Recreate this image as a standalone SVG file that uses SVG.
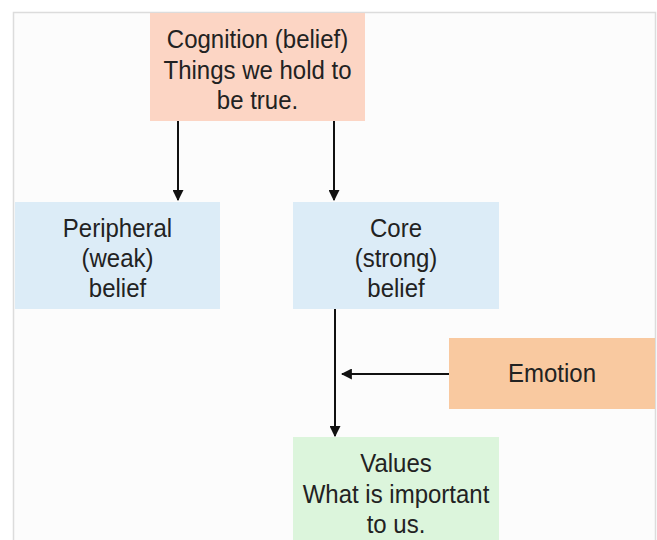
<svg xmlns="http://www.w3.org/2000/svg" width="657" height="540" viewBox="0 0 657 540">
<defs>
<marker id="ah" viewBox="0 0 10 10" refX="9" refY="5" markerWidth="5.5" markerHeight="5.5" orient="auto" markerUnits="strokeWidth">
<path d="M0,0 L10,5 L0,10 Z" fill="#111"/>
</marker>
<style>
text{font-family:"Liberation Sans",Arial,sans-serif;font-size:24px;fill:#222;text-anchor:middle;transform:scaleY(1.1);transform-box:fill-box;transform-origin:center}
.c{stroke:#111;stroke-width:2;fill:none;marker-end:url(#ah)}
</style>
</defs>
<rect x="0" y="0" width="657" height="540" fill="#fff"/>
<rect x="13.5" y="12.5" width="642" height="540" fill="#fcfcfc" stroke="#dcdcdc" stroke-width="1.5"/>
<g id="connectors">
<line class="c" x1="178" y1="121" x2="178" y2="200"/>
<line class="c" x1="334" y1="121" x2="334" y2="200"/>
<line class="c" x1="335" y1="309" x2="335" y2="436"/>
<line class="c" x1="449" y1="374" x2="342" y2="374"/>
</g>
<g id="cognition">
<rect x="150" y="13" width="215" height="108" fill="#fcd5c4"/>
<text x="257.5" y="47">Cognition (belief)</text>
<text x="257.5" y="78">Things we hold to</text>
<text x="257.5" y="108">be true.</text>
</g>
<g id="peripheral">
<rect x="15" y="202" width="205" height="107" fill="#dcecf7"/>
<text x="117.5" y="236">Peripheral</text>
<text x="117.5" y="266">(weak)</text>
<text x="117.5" y="296">belief</text>
</g>
<g id="core">
<rect x="293" y="202" width="206" height="107" fill="#dcecf7"/>
<text x="396" y="236">Core</text>
<text x="396" y="266">(strong)</text>
<text x="396" y="296">belief</text>
</g>
<g id="emotion">
<rect x="449" y="338" width="206" height="71" fill="#f9c9a0"/>
<text x="552" y="381">Emotion</text>
</g>
<g id="values">
<rect x="293" y="437" width="206" height="103" fill="#dcf5dc"/>
<text x="396" y="471">Values</text>
<text x="396" y="502">What is important</text>
<text x="396" y="532">to us.</text>
</g>
</svg>
